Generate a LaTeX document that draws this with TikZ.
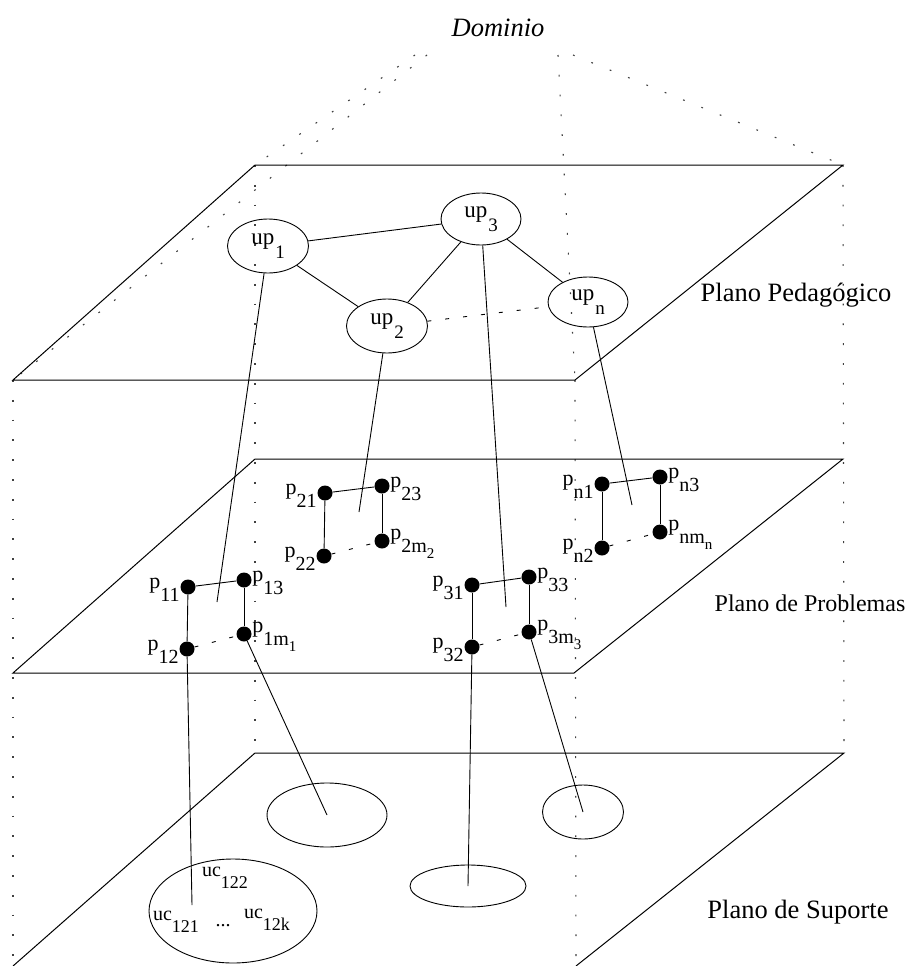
\documentclass[tikz,border=0pt]{standalone}
\usepackage{fontspec}
\setmainfont{Liberation Serif}
\usetikzlibrary{shapes.geometric}
% lowered index: #1 = font size of the index, #2 = index text
\newcommand\lowsub[2]{\raisebox{-0.6em}{\fontsize{#1}{#1}\selectfont #2}}
% second-level index (m_1, m_2, ...)
\newcommand\subsub[1]{\raisebox{-6pt}{\fontsize{15}{15}\selectfont #1}}
\newcommand\plab[1]{p\lowsub{20}{#1}}
\newcommand\uclab[1]{uc\lowsub{18}{#1}}
\begin{document}
\begin{tikzpicture}[x=1pt,y=-1pt,
  plane/.style={line width=1pt},
  hidden/.style={line width=1.1pt, black!75, dash pattern=on 1.8pt off 18pt},
  link/.style={line width=0.9pt},
  gap/.style={line width=0.9pt, dash pattern=on 4pt off 14pt},
  unit/.style={draw, ellipse, line width=0.9pt, inner sep=0pt,
    font=\fontsize{23}{23}\selectfont},
  dot/.style={circle, fill=black, minimum size=15pt, inner sep=0pt},
  lab/.style={font=\fontsize{22}{22}\selectfont, inner sep=0.5pt},
  plano/.style={font=\fontsize{26.5}{30}\selectfont, inner sep=0pt},
  region/.style={draw, ellipse, line width=0.9pt, inner sep=0pt},
  uc/.style={font=\fontsize{20}{20}\selectfont, inner sep=0pt},
]
\useasboundingbox (0,0) rectangle (909,966);

% corners of the three planes
\coordinate (TFL) at (13,380);
\coordinate (TBL) at (255,165);
\coordinate (TBR) at (843,165);
\coordinate (TFR) at (575,380);
\coordinate (MFL) at (13,673);
\coordinate (MBL) at (255,459);
\coordinate (MBR) at (843,459);
\coordinate (MFR) at (574,673);
\coordinate (BFL) at (13,966);
\coordinate (BBL) at (255,753);
\coordinate (BBR) at (844,753);
\coordinate (BFR) at (576,966);

% top points of the domain
\coordinate (A1) at (415,55);
\coordinate (A2) at (427,55);
\coordinate (A3) at (558,55);
\coordinate (A4) at (573,55);

% hidden edges of the domain
\draw[hidden] (A1) -- (TBL);
\draw[hidden] (A2) -- (TFL);
\draw[hidden] (A3) -- (TFR);
\draw[hidden] (A4) -- (TBR);
\draw[hidden] (TBL) -- (BBL);
\draw[hidden] (TBR) -- (BBR);
\draw[hidden] (TFL) -- (BFL);
\draw[hidden] (TFR) -- (BFR);

% the three planes
\draw[plane] (TFL) -- (TBL) -- (TBR) -- (TFR) -- cycle;
\draw[plane] (MFL) -- (MBL) -- (MBR) -- (MFR) -- cycle;
\draw[plane] (BFL) -- (BBL) -- (BBR) -- (BFR);

% titles
\node[font=\fontsize{26.5}{30}\selectfont\itshape, inner sep=0pt] (dom) at (498,28) {Dominio};
\node[plano] (ped) at (796,295) {Plano Pedagógico};
\node[plano, font=\fontsize{24}{28}\selectfont] (prob) at (810,603) {Plano de Problemas};
\node[plano] (sup) at (798,912) {Plano de Suporte};

% pedagogical units
\node[unit, minimum width=81pt, minimum height=54pt] (u1) at (268,246) {up\kern1pt\lowsub{19}{1}};
\node[unit, minimum width=81pt, minimum height=54pt] (u2) at (387,326) {up\kern1pt\lowsub{19}{2}};
\node[unit, minimum width=80pt, minimum height=52pt] (u3) at (481,219) {up\kern1pt\lowsub{19}{3}};
\node[unit, minimum width=80pt, minimum height=50pt] (un) at (588,302) {up\kern1pt\lowsub{19}{n}};

\draw[link] (u1) -- (u3);
\draw[link] (u1) -- (u2);
\draw[link] (u2) -- (u3);
\draw[link] (u3) -- (un);
\draw[gap] (u2) -- (un);

% problems
\node[dot, label={[lab,yshift=-3pt]left:\plab{11}}] (p11) at (188,587) {};
\node[dot, label={[lab,yshift=-3pt]right:\plab{13}}] (p13) at (244,580) {};
\node[dot, label={[lab,yshift=-3pt]left:\plab{12}}] (p12) at (187,649) {};
\node[dot, label={[lab,yshift=-3pt]right:\plab{1m\subsub{1}}}] (p1m) at (244,634) {};

\node[dot, label={[lab,yshift=-3pt]left:\plab{21}}] (p21) at (325,493) {};
\node[dot, label={[lab,yshift=-3pt]right:\plab{23}}] (p23) at (382,486) {};
\node[dot, label={[lab,yshift=-3pt]left:\plab{22}}] (p22) at (324,556) {};
\node[dot, label={[lab,yshift=-3pt]right:\plab{2m\subsub{2}}}] (p2m) at (382,541) {};

\node[dot, label={[lab,yshift=-3pt]left:\plab{31}}] (p31) at (472,585) {};
\node[dot, label={[lab,yshift=-3pt]right:\plab{33}}] (p33) at (529,577) {};
\node[dot, label={[lab,yshift=-3pt]left:\plab{32}}] (p32) at (472,647) {};
\node[dot, label={[lab,yshift=-3pt]right:\plab{3m\subsub{3}}}] (p3m) at (529,632) {};

\node[dot, label={[lab,yshift=-3pt]left:\plab{n1}}] (pn1) at (602,484) {};
\node[dot, label={[lab,yshift=-3pt]right:\plab{n3}}] (pn3) at (660,477) {};
\node[dot, label={[lab,yshift=-3pt]left:\plab{n2}}] (pn2) at (602,548) {};
\node[dot, label={[lab,yshift=-3pt]right:\plab{nm\subsub{n}}}] (pnm) at (660,532) {};

\foreach \g in {1,2,3,n}{
  \draw[link] (p\g1) -- (p\g3);
  \draw[link] (p\g1) -- (p\g2);
  \draw[link] (p\g3) -- (p\g m);
  \draw[gap] (p\g2) -- (p\g m);
}

% links from units down to the problem plane
\coordinate (e1) at (217,602);
\coordinate (e2) at (359,512);
\coordinate (e3) at (506,607);
\coordinate (en) at (632,505);
\draw[link] (u1) -- (e1);
\draw[link] (u2) -- (e2);
\draw[link] (u3) -- (e3);
\draw[link] (un) -- (en);

% support regions
\node[region, minimum width=168pt, minimum height=104pt] (s1) at (233,911) {};
\node[region, minimum width=120pt, minimum height=64pt] (s2) at (327,815) {};
\node[region, minimum width=116pt, minimum height=42pt] (s3) at (468,886) {};
\node[region, minimum width=81pt, minimum height=54pt] (s4) at (583,812) {};

\node[uc] (c122) at (225,878) {\uclab{122}};
\node[uc] (c121) at (176,922) {\uclab{121}};
\node[uc] (cdots) at (223,926) {...};
\node[uc] (c12k) at (267,920) {\uclab{12k}};

\coordinate (c1) at (192,905);
\draw[link] (p12) -- (c1);
\draw[link] (p1m) -- (s2.center);
\draw[link] (p32) -- (s3.center);
\draw[link] (p3m) -- (s4.center);
\end{tikzpicture}
\end{document}
